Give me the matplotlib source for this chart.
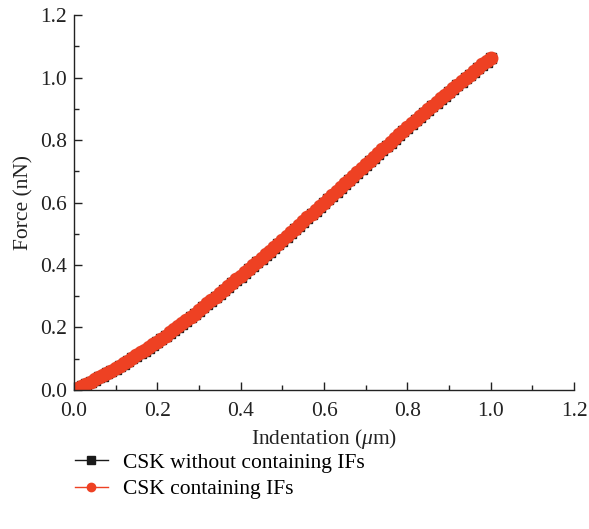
import matplotlib
matplotlib.use("Agg")
import matplotlib.pyplot as plt
from matplotlib.ticker import MultipleLocator

plt.rcParams['font.family'] = ['Liberation Serif', 'DejaVu Serif']
plt.rcParams['mathtext.fontset'] = 'custom'
plt.rcParams['mathtext.it'] = 'Liberation Serif:italic'
plt.rcParams['mathtext.rm'] = 'Liberation Serif'

indentation = [0.00, 0.01, 0.02, 0.03, 0.04, 0.05, 0.06, 0.07, 0.08, 0.09,
               0.10, 0.11, 0.12, 0.13, 0.14, 0.15, 0.16, 0.17, 0.18, 0.19,
               0.20, 0.21, 0.22, 0.23, 0.24, 0.25, 0.26, 0.27, 0.28, 0.29,
               0.30, 0.31, 0.32, 0.33, 0.34, 0.35, 0.36, 0.37, 0.38, 0.39,
               0.40, 0.41, 0.42, 0.43, 0.44, 0.45, 0.46, 0.47, 0.48, 0.49,
               0.50, 0.51, 0.52, 0.53, 0.54, 0.55, 0.56, 0.57, 0.58, 0.59,
               0.60, 0.61, 0.62, 0.63, 0.64, 0.65, 0.66, 0.67, 0.68, 0.69,
               0.70, 0.71, 0.72, 0.73, 0.74, 0.75, 0.76, 0.77, 0.78, 0.79,
               0.80, 0.81, 0.82, 0.83, 0.84, 0.85, 0.86, 0.87, 0.88, 0.89,
               0.90, 0.91, 0.92, 0.93, 0.94, 0.95, 0.96, 0.97, 0.98, 0.99, 1.00]

force_with_ifs = [0.000, 0.006, 0.013, 0.020, 0.027, 0.034, 0.041, 0.048, 0.055, 0.062,
                  0.070, 0.078, 0.086, 0.094, 0.103, 0.111, 0.120, 0.128, 0.137, 0.146,
                  0.155, 0.164, 0.174, 0.184, 0.194, 0.204, 0.214, 0.224, 0.234, 0.244,
                  0.255, 0.266, 0.277, 0.288, 0.299, 0.310, 0.321, 0.332, 0.343, 0.354,
                  0.365, 0.376, 0.388, 0.399, 0.411, 0.422, 0.434, 0.445, 0.457, 0.468,
                  0.480, 0.492, 0.504, 0.516, 0.528, 0.540, 0.552, 0.564, 0.576, 0.588,
                  0.600, 0.612, 0.624, 0.636, 0.649, 0.661, 0.673, 0.685, 0.698, 0.710,
                  0.722, 0.734, 0.746, 0.758, 0.770, 0.782, 0.794, 0.806, 0.818, 0.830,
                  0.842, 0.853, 0.865, 0.876, 0.888, 0.899, 0.910, 0.921, 0.933, 0.944,
                  0.955, 0.966, 0.977, 0.988, 0.999, 1.009, 1.020, 1.031, 1.042, 1.052, 1.063]

force_without_ifs = [0.000, 0.005, 0.012, 0.019, 0.026, 0.033, 0.040, 0.046, 0.053, 0.060,
                     0.068, 0.076, 0.084, 0.092, 0.101, 0.109, 0.118, 0.126, 0.135, 0.144,
                     0.153, 0.162, 0.172, 0.182, 0.192, 0.202, 0.212, 0.222, 0.232, 0.242,
                     0.253, 0.264, 0.275, 0.286, 0.297, 0.308, 0.319, 0.330, 0.341, 0.352,
                     0.363, 0.374, 0.386, 0.397, 0.409, 0.420, 0.432, 0.443, 0.455, 0.466,
                     0.478, 0.490, 0.502, 0.514, 0.526, 0.538, 0.550, 0.562, 0.574, 0.586,
                     0.598, 0.610, 0.622, 0.634, 0.647, 0.659, 0.671, 0.683, 0.696, 0.708,
                     0.720, 0.732, 0.744, 0.756, 0.768, 0.780, 0.792, 0.804, 0.816, 0.828,
                     0.840, 0.851, 0.863, 0.874, 0.886, 0.897, 0.908, 0.919, 0.931, 0.942,
                     0.953, 0.964, 0.975, 0.986, 0.997, 1.007, 1.018, 1.029, 1.040, 1.050, 1.061]

labels = ['CSK without containing IFs', 'CSK containing IFs']
black = '#1a1a1a'
red = '#ee4123'
fs = 15.5

fig = plt.figure(figsize=(5.89, 5.29), dpi=100)
ax = fig.add_axes([0.1256, 0.2628, 0.8490, 0.7088])

ax.plot(indentation, force_without_ifs, color=black, marker='s', markersize=7.2,
        linewidth=1, label=labels[0])
ax.plot(indentation, force_with_ifs, color=red, marker='o', markersize=9,
        linewidth=1, label=labels[1])

ax.set_xlim(0, 1.2)
ax.set_ylim(0, 1.2)
ax.xaxis.set_major_locator(MultipleLocator(0.2))
ax.xaxis.set_minor_locator(MultipleLocator(0.1))
ax.yaxis.set_major_locator(MultipleLocator(0.2))
ax.yaxis.set_minor_locator(MultipleLocator(0.1))
ax.xaxis.set_major_formatter(plt.FormatStrFormatter('%.1f'))
ax.yaxis.set_major_formatter(plt.FormatStrFormatter('%.1f'))
ax.tick_params(which='both', direction='in', labelsize=fs, colors='#222222', width=1)
ax.tick_params(which='major', length=6)
ax.tick_params(axis='x', which='major', pad=8.5)
ax.tick_params(axis='y', which='major', pad=5)
ax.tick_params(which='minor', length=3.5)
ax.spines['top'].set_visible(False)
ax.spines['right'].set_visible(False)
for s in ('left', 'bottom'):
    ax.spines[s].set_linewidth(1)
    ax.spines[s].set_color('#222222')

ax.set_xlabel(r'Indentation ($\mathit{\mu}$m)', fontsize=fs, color='#222222', labelpad=4.5)
ax.set_ylabel('Force (nN)', fontsize=fs, color='#222222', labelpad=5)

leg = fig.legend(loc='upper left', bbox_to_anchor=(0.127, 0.1444), frameon=False,
                 fontsize=fs, handlelength=1.55, handletextpad=0.7, labelspacing=0.31,
                 borderaxespad=0, borderpad=0)
for h in leg.legend_handles:
    h.set_markersize(6)

fig.savefig('out.png', dpi=100)
